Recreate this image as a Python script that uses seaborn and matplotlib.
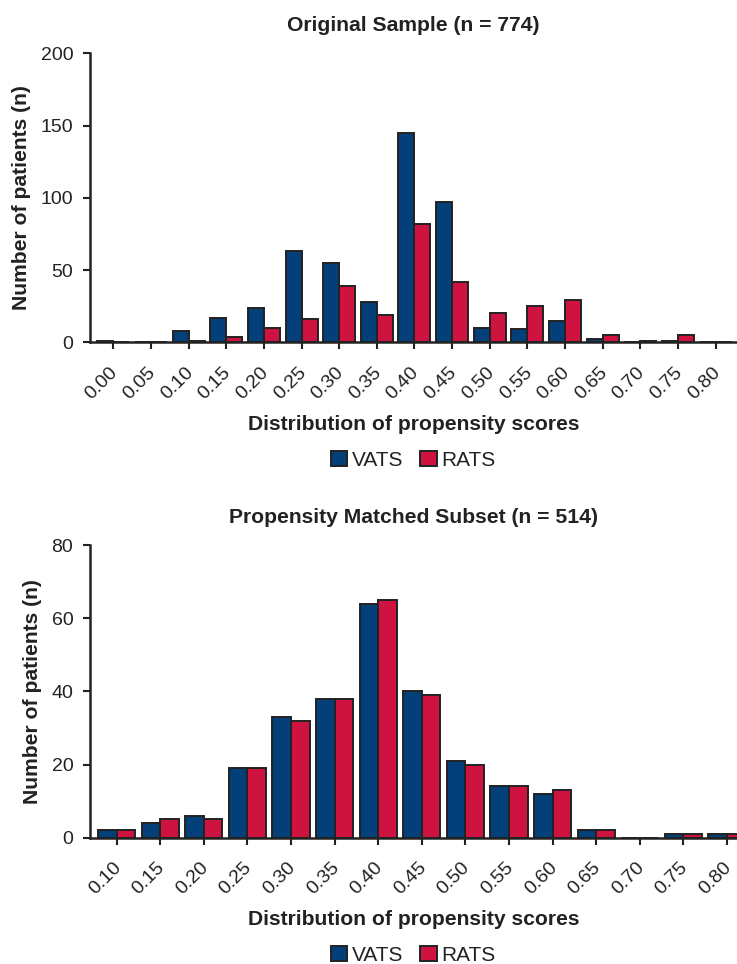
import pandas as pd
import matplotlib.pyplot as plt
import matplotlib.transforms as mtransforms
import seaborn as sns
from matplotlib.patches import Patch

# valeurs
top_scores = ["0.00", "0.05", "0.10", "0.15", "0.20", "0.25", "0.30", "0.35", "0.40",
              "0.45", "0.50", "0.55", "0.60", "0.65", "0.70", "0.75", "0.80"]
top_vats = [1, 0, 8, 17, 24, 63, 55, 28, 145, 97, 10, 9, 15, 2, 0, 1, 0]
top_rats = [0, 0, 1, 4, 10, 16, 39, 19, 82, 42, 20, 25, 29, 5, 1, 5, 0]

bottom_scores = ["0.10", "0.15", "0.20", "0.25", "0.30", "0.35", "0.40", "0.45",
                 "0.50", "0.55", "0.60", "0.65", "0.70", "0.75", "0.80"]
bottom_vats = [2, 4, 6, 19, 33, 38, 64, 40, 21, 14, 12, 2, 0, 1, 1]
bottom_rats = [2, 5, 5, 19, 32, 38, 65, 39, 20, 14, 13, 2, 0, 1, 1]

groups = ["VATS", "RATS"]
navy = "#033f78"
red = "#cf1340"
ink = "#222222"

sns.set_style("ticks")
plt.rcParams['font.family'] = ['Liberation Sans', 'DejaVu Sans']
plt.rcParams['text.color'] = ink
plt.rcParams['axes.labelcolor'] = ink
plt.rcParams['xtick.color'] = ink
plt.rcParams['ytick.color'] = ink


def long_df(scores, vats, rats):
    df = pd.DataFrame({"score": scores, "VATS": vats, "RATS": rats})
    return df.melt(id_vars="score", var_name="group", value_name="n")


def draw(ax, scores, vats, rats, title, ymax, ystep, xlim, ylab_x):
    df = long_df(scores, vats, rats)
    sns.barplot(data=df, x="score", y="n", hue="group", order=scores, hue_order=groups,
                palette=[navy, red], width=0.85, saturation=1, edgecolor=ink,
                linewidth=1.4, legend=False, ax=ax)
    ax.set_xlim(*xlim)
    ax.set_ylim(0, ymax)
    ax.set_yticks(range(0, ymax + 1, ystep))
    for s in ["top", "right"]:
        ax.spines[s].set_visible(False)
    for s in ["left", "bottom"]:
        ax.spines[s].set_linewidth(1.8)
        ax.spines[s].set_color(ink)
    ax.tick_params(axis="both", length=5, width=1.5, labelsize=14)
    ax.tick_params(axis="y", pad=7)
    ax.tick_params(axis="x", pad=10.5)
    # petit décalage à gauche des étiquettes inclinées
    shift = mtransforms.ScaledTranslation(-4 / 100, 0, ax.figure.dpi_scale_trans)
    for lab in ax.get_xticklabels():
        lab.set_rotation(45)
        lab.set_ha("right")
        lab.set_rotation_mode("anchor")
        lab.set_transform(lab.get_transform() + shift)
    ax.set_title(title, fontsize=15.2, fontweight="bold", pad=16)
    ax.set_xlabel("")
    ax.set_ylabel("Number of patients (n)", fontsize=15.2, fontweight="bold")
    ax.yaxis.set_label_coords(ylab_x, 0.5)


fig = plt.figure(figsize=(7.37, 9.64), dpi=100)
W, H = 737, 964
ax1 = fig.add_axes([90 / W, 1 - 342.3 / H, 647 / W, 289 / H])
ax2 = fig.add_axes([90 / W, 1 - 837.7 / H, 647 / W, 292.7 / H])

draw(ax1, top_scores, top_vats, top_rats, "Original Sample (n = 774)", 200, 50,
     (-0.619, 16.566), -0.091)
draw(ax2, bottom_scores, bottom_vats, bottom_rats, "Propensity Matched Subset (n = 514)", 80, 20,
     (-0.61, 14.23), -0.074)

xc = (90 + 737) / 2 / W
handles = [Patch(facecolor=navy, edgecolor=ink, linewidth=1.4, label="VATS"),
           Patch(facecolor=red, edgecolor=ink, linewidth=1.4, label="RATS")]
for base, leg in [(430, 460.5), (925, 955.5)]:
    fig.text(xc, 1 - base / H, "Distribution of propensity scores", ha="center",
             va="baseline", fontsize=15.2, fontweight="bold")
    fig.legend(handles=handles, loc="center", bbox_to_anchor=(xc, 1 - leg / H), ncol=2,
               frameon=False, fontsize=15, handlelength=0.77, handleheight=0.72,
               handletextpad=0.25, columnspacing=0.8, borderpad=0, borderaxespad=0)

plt.savefig("out.png", dpi=100)
